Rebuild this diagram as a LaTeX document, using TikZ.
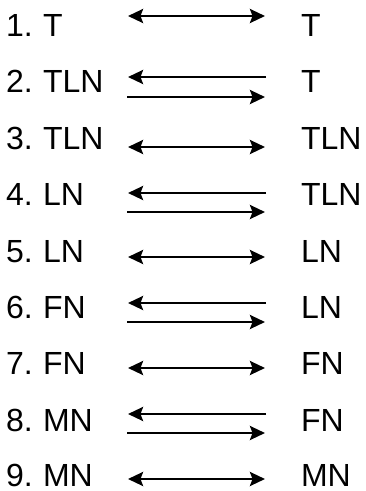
\documentclass[tikz,border=0pt]{standalone}
\usepackage{fontspec}
\setmainfont{Liberation Sans}
\usetikzlibrary{arrows.meta}
\tikzset{
  lbl/.style={anchor=base west, inner sep=0pt, outer sep=0pt, font=\fontsize{32}{38}\selectfont},
  tip/.tip={Stealth[length=15pt,width=14pt,inset=2.5pt]},
  arr/.style={line width=2.6pt, -tip},
  darr/.style={line width=2.6pt, tip-tip}
}
\begin{document}
\begin{tikzpicture}[x=1pt,y=-1pt]
\useasboundingbox (0,0) rectangle (365,491);
% numbers
\node[lbl] (n1) at (6,36.5) {1.};
\node[lbl] (n2) at (6,92.9) {2.};
\node[lbl] (n3) at (6,149.3) {3.};
\node[lbl] (n4) at (6,205.7) {4.};
\node[lbl] (n5) at (6,262.1) {5.};
\node[lbl] (n6) at (6,318.5) {6.};
\node[lbl] (n7) at (6,374.9) {7.};
\node[lbl] (n8) at (6,431.3) {8.};
\node[lbl] (n9) at (6,486.5) {9.};
% left labels
\node[lbl] (l1) at (43,36.5) {T};
\node[lbl] (l2) at (43,92.9) {TLN};
\node[lbl] (l3) at (43,149.3) {TLN};
\node[lbl] (l4) at (43,205.7) {LN};
\node[lbl] (l5) at (43,262.1) {LN};
\node[lbl] (l6) at (43,318.5) {FN};
\node[lbl] (l7) at (43,374.9) {FN};
\node[lbl] (l8) at (43,431.3) {MN};
\node[lbl] (l9) at (43,486.5) {MN};
% right labels
\node[lbl] (r1) at (301,36.5) {T};
\node[lbl] (r2) at (301,92.9) {T};
\node[lbl] (r3) at (301,149.3) {TLN};
\node[lbl] (r4) at (301,205.7) {TLN};
\node[lbl] (r5) at (301,262.1) {LN};
\node[lbl] (r6) at (301,318.5) {LN};
\node[lbl] (r7) at (301,374.9) {FN};
\node[lbl] (r8) at (301,431.3) {FN};
\node[lbl] (r9) at (301,486.5) {MN};
% arrow end points
\coordinate (a1l) at (128,16);  \coordinate (a1r) at (265,16);
\coordinate (a2ul) at (128,77); \coordinate (a2ur) at (266,77);
\coordinate (a2dl) at (127,97); \coordinate (a2dr) at (265,97);
\coordinate (a3l) at (128,147); \coordinate (a3r) at (265,147);
\coordinate (a4ul) at (128,193); \coordinate (a4ur) at (266,193);
\coordinate (a4dl) at (127,212); \coordinate (a4dr) at (265,212);
\coordinate (a5l) at (128,257); \coordinate (a5r) at (265,257);
\coordinate (a6ul) at (128,303); \coordinate (a6ur) at (266,303);
\coordinate (a6dl) at (127,322); \coordinate (a6dr) at (265,322);
\coordinate (a7l) at (128,368); \coordinate (a7r) at (265,368);
\coordinate (a8ul) at (128,414); \coordinate (a8ur) at (266,414);
\coordinate (a8dl) at (127,433); \coordinate (a8dr) at (265,433);
\coordinate (a9l) at (128,479); \coordinate (a9r) at (265,479);
% arrows
\draw[darr] (a1l) -- (a1r);
\draw[arr] (a2ur) -- (a2ul);
\draw[arr] (a2dl) -- (a2dr);
\draw[darr] (a3l) -- (a3r);
\draw[arr] (a4ur) -- (a4ul);
\draw[arr] (a4dl) -- (a4dr);
\draw[darr] (a5l) -- (a5r);
\draw[arr] (a6ur) -- (a6ul);
\draw[arr] (a6dl) -- (a6dr);
\draw[darr] (a7l) -- (a7r);
\draw[arr] (a8ur) -- (a8ul);
\draw[arr] (a8dl) -- (a8dr);
\draw[darr] (a9l) -- (a9r);
\end{tikzpicture}
\end{document}
